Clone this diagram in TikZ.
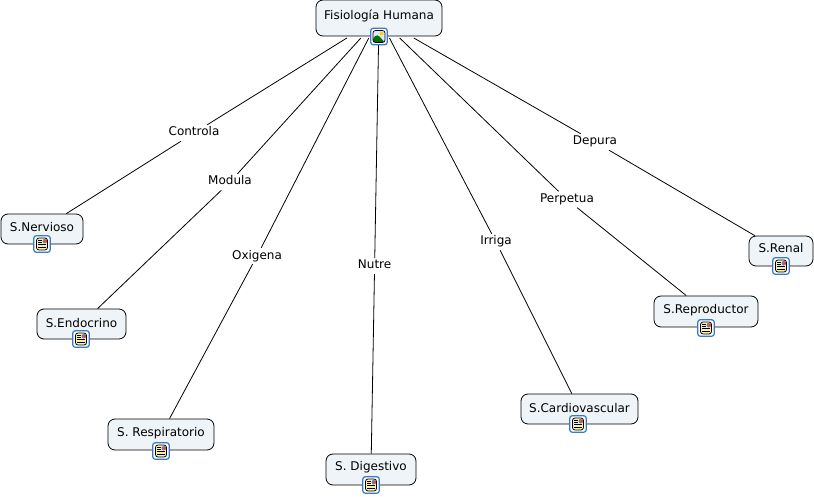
\documentclass[tikz,border=0pt]{standalone}
\usepackage{fontspec}
\setmainfont{DejaVu Sans}
\definecolor{boxfill}{HTML}{EEF4F7}
\definecolor{iconblue}{HTML}{3A78C8}
\definecolor{pagey}{HTML}{F8F0B0}
\tikzset{
 concept/.style={draw=black,line width=0.8pt,fill=boxfill,rounded corners=7pt,font=\fontsize{12}{14}\selectfont,text height=9pt,text depth=6pt,inner sep=0pt},
 lowtext/.style={text depth=3pt},
 midtext/.style={text depth=5pt},
 lbl/.style={font=\fontsize{12}{14}\selectfont,inner sep=2.5pt,text height=8.5pt,text depth=2.5pt},
 conn/.style={draw=black,line width=0.8pt},
 iconbase/.style={draw=iconblue,line width=1.2pt,fill=white,rounded corners=2.5pt,minimum size=16.5pt,inner sep=0pt},
 docicon/.style={iconbase,path picture={
   \begin{scope}[shift={(path picture bounding box.center)},x=1pt,y=1pt]
   \fill[pagey] (-5.5,-6) rectangle (5.5,6);
   \fill[gray!50!blue!70] (0.5,0.5) rectangle (4.8,5.2);
   \fill[red!50!orange] (2.5,2) rectangle (4.8,3.6);
   \draw[black,line width=0.8pt] (-5.5,-6) rectangle (5.5,6);
   \foreach \yy in {4,1.8}{\draw[black,line width=0.6pt] (-4,\yy) -- (-0.5,\yy);}
   \foreach \yy in {-0.6,-3.2}{\draw[black,line width=0.6pt] (-4,\yy) -- (4,\yy);}
   \end{scope}}},
 imgicon/.style={iconbase,path picture={
   \begin{scope}[shift={(path picture bounding box.center)},x=1pt,y=1pt]
   \fill[blue!10] (-6,-6) rectangle (6,6);
   \fill[yellow!70!orange] (2.5,3) circle (2);
   \fill[green!45!black] (-6,-6) -- (-6,-1) -- (-1.5,2) -- (6,-6) -- cycle;
   \draw[black,line width=0.7pt] (-6,-6) rectangle (6,6);
   \end{scope}}}
}
\begin{document}
\begin{tikzpicture}[x=1pt,y=-1pt]
\useasboundingbox (0,0) rectangle (814,497);
% concepts
\node[concept,minimum width=126pt,minimum height=36pt,outer sep=2pt] (top) at (379,18) {Fisiología Humana};
\node[concept,lowtext,minimum width=82pt,minimum height=30pt] (nerv) at (42,229) {S.Nervioso};
\node[concept,lowtext,minimum width=89pt,minimum height=30pt] (endo) at (81.5,324) {S.Endocrino};
\node[concept,minimum width=106pt,minimum height=31pt] (resp) at (161,434.5) {S. Respiratorio};
\node[concept,text depth=8pt,minimum width=90pt,minimum height=31pt] (dig) at (371,469.5) {S. Digestivo};
\node[concept,lowtext,minimum width=117pt,minimum height=30pt] (card) at (579.5,409) {S.Cardiovascular};
\node[concept,minimum width=104pt,minimum height=31pt] (repr) at (706,311.5) {S.Reproductor};
\node[concept,midtext,minimum width=64pt,minimum height=30pt] (ren) at (781,251) {S.Renal};
% labels
\node[lbl] (lc) at (194,133) {Controla};
\node[lbl] (lm) at (230,182) {Modula};
\node[lbl] (lo) at (257,256) {Oxigena};
\node[lbl] (ln) at (374.6,266) {Nutre};
\node[lbl] (li) at (496,242) {Irriga};
\node[lbl] (lp) at (567,199.5) {Perpetua};
\node[lbl] (ld) at (595,142) {Depura};
% connectors
\foreach \l/\t in {lc/nerv,lm/endo,lo/resp,ln/dig,li/card,lp/repr,ld/ren}{
  \draw[conn] (top) -- (\l);
  \draw[conn] (\l) -- (\t);
}
% icons
\node[imgicon] (i0) at (379,36.5) {};
\node[docicon] (i1) at (42,244) {};
\node[docicon] (i2) at (81,339) {};
\node[docicon] (i3) at (161,451) {};
\node[docicon] (i4) at (371,485) {};
\node[docicon] (i5) at (578,424) {};
\node[docicon] (i6) at (706,328) {};
\node[docicon] (i7) at (781,266) {};
\end{tikzpicture}
\end{document}
